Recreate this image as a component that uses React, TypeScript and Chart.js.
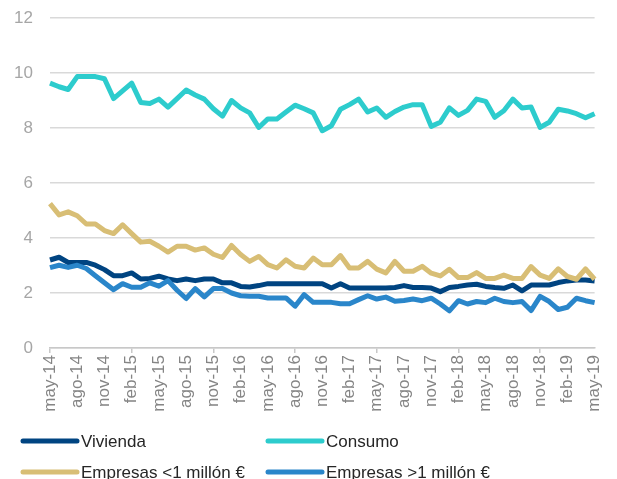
import { useEffect, useRef } from "react";
import { Chart, registerables } from "chart.js";

Chart.register(...registerables);

const categories = [
  "may-14", "jun-14", "jul-14", "ago-14", "sep-14", "oct-14", "nov-14", "dic-14",
  "ene-15", "feb-15", "mar-15", "abr-15", "may-15", "jun-15", "jul-15", "ago-15", "sep-15", "oct-15", "nov-15", "dic-15",
  "ene-16", "feb-16", "mar-16", "abr-16", "may-16", "jun-16", "jul-16", "ago-16", "sep-16", "oct-16", "nov-16", "dic-16",
  "ene-17", "feb-17", "mar-17", "abr-17", "may-17", "jun-17", "jul-17", "ago-17", "sep-17", "oct-17", "nov-17", "dic-17",
  "ene-18", "feb-18", "mar-18", "abr-18", "may-18", "jun-18", "jul-18", "ago-18", "sep-18", "oct-18", "nov-18", "dic-18",
  "ene-19", "feb-19", "mar-19", "abr-19", "may-19",
];

const vivienda = [
  3.2, 3.3, 3.11, 3.11, 3.11, 3.01, 2.85, 2.63, 2.63, 2.73, 2.51, 2.53, 2.61, 2.51, 2.45, 2.51, 2.45, 2.51, 2.51, 2.37, 2.37,
  2.24, 2.22, 2.27, 2.34, 2.34, 2.34, 2.34, 2.34, 2.34, 2.34, 2.18, 2.34, 2.18, 2.18, 2.18, 2.18, 2.18, 2.2, 2.27, 2.2,
  2.2, 2.18, 2.05, 2.2, 2.24, 2.29, 2.32, 2.24, 2.2, 2.17, 2.29, 2.08, 2.29, 2.29, 2.29, 2.38, 2.44, 2.47, 2.47, 2.44,
];

const consumo = [
  9.63, 9.5, 9.4, 9.87, 9.87, 9.87, 9.79, 9.07, 9.35, 9.63, 8.93, 8.89, 9.05, 8.76, 9.07, 9.38, 9.2, 9.05, 8.7, 8.43, 9.0,
  8.73, 8.55, 8.02, 8.33, 8.33, 8.58, 8.83, 8.7, 8.55, 7.9, 8.08, 8.68, 8.85, 9.05, 8.58, 8.73, 8.39, 8.6, 8.76, 8.85,
  8.85, 8.06, 8.21, 8.73, 8.46, 8.64, 9.05, 8.97, 8.39, 8.63, 9.05, 8.73, 8.76, 8.02, 8.21, 8.68, 8.62, 8.52, 8.37, 8.52,
];

const empresasMenor = [
  5.25, 4.84, 4.95, 4.81, 4.51, 4.51, 4.27, 4.16, 4.48, 4.16, 3.85, 3.88, 3.7, 3.49, 3.7, 3.7, 3.56, 3.64, 3.41, 3.29, 3.73,
  3.4, 3.15, 3.33, 3.03, 2.91, 3.21, 2.97, 2.91, 3.27, 3.03, 3.03, 3.36, 2.91, 2.91, 3.15, 2.87, 2.73, 3.15, 2.79, 2.79,
  2.97, 2.72, 2.62, 2.86, 2.56, 2.56, 2.74, 2.53, 2.53, 2.65, 2.53, 2.53, 2.96, 2.65, 2.53, 2.88, 2.6, 2.5, 2.88, 2.5,
];

const empresasMayor = [
  2.92, 3.01, 2.93, 3.01, 2.89, 2.63, 2.37, 2.12, 2.34, 2.21, 2.21, 2.37, 2.25, 2.45, 2.1, 1.8, 2.16, 1.86, 2.16, 2.16, 2.0,
  1.9, 1.88, 1.88, 1.82, 1.82, 1.82, 1.52, 1.94, 1.66, 1.66, 1.66, 1.61, 1.61, 1.76, 1.9, 1.78, 1.85, 1.7, 1.73, 1.78,
  1.72, 1.81, 1.6, 1.35, 1.72, 1.6, 1.69, 1.65, 1.81, 1.69, 1.65, 1.69, 1.36, 1.88, 1.69, 1.4, 1.48, 1.81, 1.72, 1.65,
];

const seriesNames = ["Vivienda", "Consumo", "Empresas <1 millón €", "Empresas >1 millón €"];
const seriesColors = ["#004481", "#2dcccd", "#d8be75", "#2a86ca"];
const yTicks = [0, 2, 4, 6, 8, 10, 12];

const FONT = "'Liberation Sans', Arial, sans-serif";

const legendPlugin = {
  id: "fixedLegend",
  afterDraw(chart: any) {
    const ctx = chart.ctx;
    const pos = [
      [20, 441],
      [265, 441],
      [20, 472],
      [265, 472],
    ];
    ctx.save();
    ctx.font = `17px ${FONT}`;
    ctx.textBaseline = "middle";
    ctx.textAlign = "left";
    chart.data.datasets.forEach((ds: any, i: number) => {
      const [x, y] = pos[i];
      ctx.strokeStyle = ds.borderColor;
      ctx.lineWidth = 5;
      ctx.lineCap = "round";
      ctx.beginPath();
      ctx.moveTo(x + 3, y);
      ctx.lineTo(x + 57, y);
      ctx.stroke();
      ctx.fillStyle = "#262626";
      ctx.fillText(ds.label, x + 61, y + 1);
    });
    ctx.restore();
  },
};

export default function App() {
  const ref = useRef<HTMLCanvasElement | null>(null);

  useEffect(() => {
    if (!ref.current) return;
    const values = [vivienda, consumo, empresasMenor, empresasMayor];
    const chart = new Chart(ref.current, {
      type: "line",
      data: {
        labels: categories,
        datasets: values.map((v, i) => ({
          label: seriesNames[i],
          data: v,
          borderColor: seriesColors[i],
          backgroundColor: seriesColors[i],
          borderWidth: 5,
          pointRadius: 0,
          pointHoverRadius: 0,
          tension: 0,
          borderJoinStyle: "round" as const,
          fill: false,
          order: 3 - i,
        })),
      },
      options: {
        responsive: false,
        animation: false,
        layout: { padding: { top: 18, right: 16, bottom: 82, left: 0 } },
        plugins: {
          legend: { display: false },
          tooltip: { enabled: false },
        },
        scales: {
          x: {
            type: "category",
            offset: false,
            afterFit: (scale: any) => {
              scale.height = 70;
            },
            border: { display: true, color: "#c8c8c8", width: 1.5 },
            grid: {
              drawOnChartArea: false,
              drawTicks: true,
              tickLength: 5,
              tickColor: (c: any) => (c.index % 3 === 0 ? "#c8c8c8" : "rgba(0,0,0,0)"),
              lineWidth: 1.5,
            },
            ticks: {
              autoSkip: false,
              maxRotation: 90,
              minRotation: 90,
              padding: 2,
              color: "#858585",
              font: { size: 17, family: FONT },
              callback: (_v: any, i: number) => (i % 3 === 0 ? categories[i] : null),
            },
          },
          y: {
            min: 0,
            max: 12,
            afterFit: (scale: any) => {
              scale.width = 50;
            },
            afterBuildTicks: (scale: any) => {
              scale.ticks = yTicks.map((v) => ({ value: v }));
            },
            border: { display: false },
            grid: {
              color: "#d9d9d9",
              lineWidth: 1.5,
              drawTicks: true,
              tickLength: 17,
              tickColor: "rgba(0,0,0,0)",
            },
            ticks: {
              padding: 0,
              color: "#a6a6a6",
              font: { size: 17, family: FONT },
            },
          },
        },
      },
      plugins: [legendPlugin],
    });
    return () => chart.destroy();
  }, []);

  return (
    <div
      style={{
        position: "fixed",
        left: 0,
        top: 0,
        width: 617,
        height: 479,
        overflow: "hidden",
        background: "#fff",
      }}
    >
      <canvas ref={ref} width={617} height={500} style={{ display: "block" }} />
    </div>
  );
}
